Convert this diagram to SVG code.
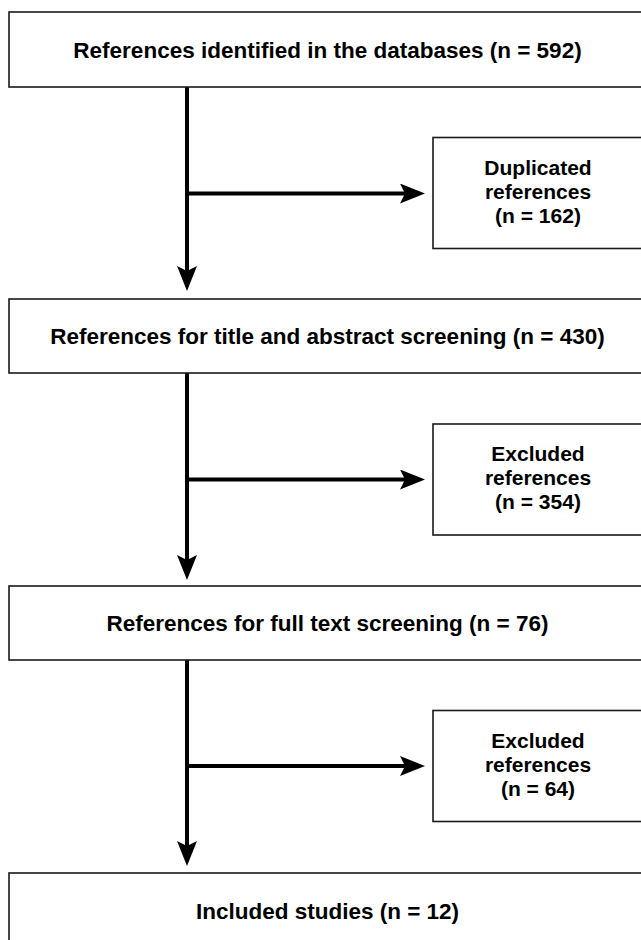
<svg xmlns="http://www.w3.org/2000/svg" width="641" height="940" viewBox="0 0 641 940">
<style>
.box{fill:#fff;stroke:#1a1a1a;stroke-width:1.6}
.t{font-family:"Liberation Sans",Arial,Helvetica,sans-serif;font-weight:bold;font-size:22.5px;fill:#000;text-anchor:middle}
.ts{font-family:"Liberation Sans",Arial,Helvetica,sans-serif;font-weight:bold;font-size:21px;fill:#000;text-anchor:middle}
.c{stroke:#000;stroke-width:4;fill:none}
</style>
<defs>
<marker id="ah" viewBox="0 0 25 20" refX="15" refY="10" markerWidth="25" markerHeight="20" markerUnits="userSpaceOnUse" orient="auto">
<path d="M0,0 L25,10 L0,20 L5,10 Z" fill="#000"/>
</marker>
</defs>
<rect width="641" height="940" fill="#fff"/>
<g id="connectors">
<path class="c" d="M187,87 V281" marker-end="url(#ah)"/>
<path class="c" d="M187,193.5 H415" marker-end="url(#ah)"/>
<path class="c" d="M187,373 V570" marker-end="url(#ah)"/>
<path class="c" d="M187,479.5 H415" marker-end="url(#ah)"/>
<path class="c" d="M187,660 V856" marker-end="url(#ah)"/>
<path class="c" d="M187,766 H415" marker-end="url(#ah)"/>
</g>
<g id="n1">
<rect class="box" x="9" y="12" width="640" height="75"/>
<text class="t" x="327.5" y="57.5">References identified in the databases (n = 592)</text>
</g>
<g id="n2">
<rect class="box" x="433" y="137.5" width="215" height="111"/>
<text class="ts" x="538" y="175">Duplicated</text>
<text class="ts" x="538" y="199">references</text>
<text class="ts" x="538" y="223">(n = 162)</text>
</g>
<g id="n3">
<rect class="box" x="9" y="299" width="640" height="74"/>
<text class="t" x="327.5" y="344">References for title and abstract screening (n = 430)</text>
</g>
<g id="n4">
<rect class="box" x="433" y="424" width="215" height="111"/>
<text class="ts" x="538" y="461">Excluded</text>
<text class="ts" x="538" y="485">references</text>
<text class="ts" x="538" y="509">(n = 354)</text>
</g>
<g id="n5">
<rect class="box" x="9" y="586" width="640" height="74"/>
<text class="t" x="327.5" y="631">References for full text screening (n = 76)</text>
</g>
<g id="n6">
<rect class="box" x="433" y="710.5" width="215" height="111"/>
<text class="ts" x="538" y="748">Excluded</text>
<text class="ts" x="538" y="772">references</text>
<text class="ts" x="538" y="796">(n = 64)</text>
</g>
<g id="n7">
<rect class="box" x="9" y="873" width="640" height="80"/>
<text class="t" x="327.5" y="918.5">Included studies (n = 12)</text>
</g>
</svg>
